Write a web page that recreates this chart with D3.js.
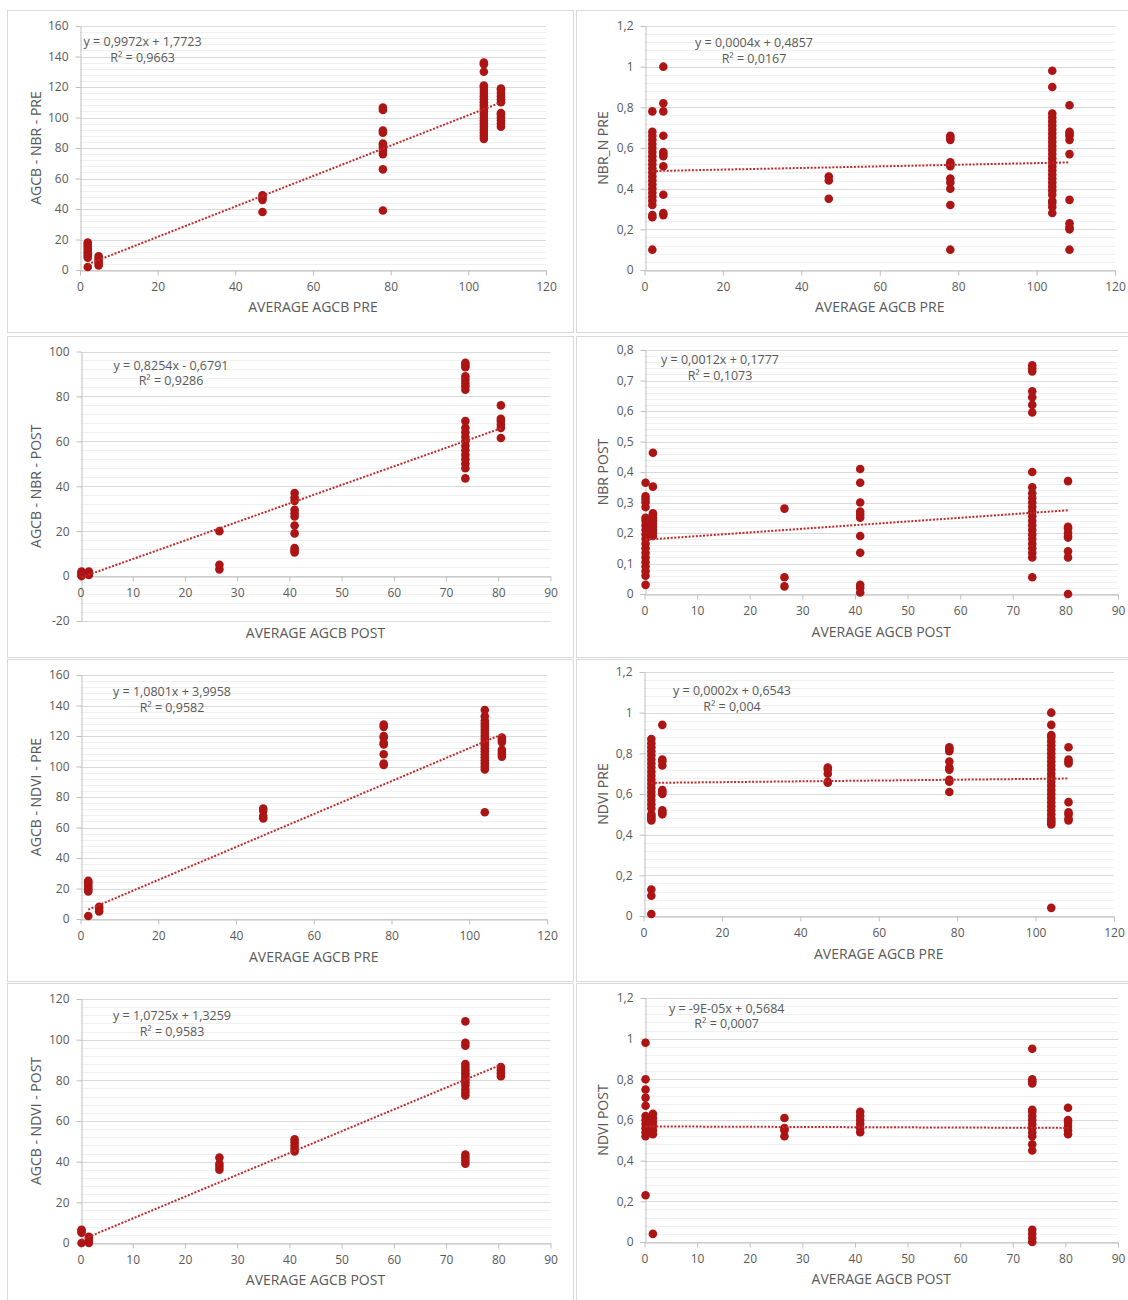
<!DOCTYPE html>
<html>
<head>
<meta charset="utf-8">
<script src="https://cdn.jsdelivr.net/npm/d3@7"></script>
<style>
  body { margin: 0; background: #fff; }
  text { font-family: "Open Sans", "Liberation Sans", sans-serif; fill: #595959; }
</style>
</head>
<body>
<div id="chart"></div>
<script>
// average AGCB of each plot (x clusters)
const preX = [2, 4.8, 47, 78, 104, 108.4];
const postX = [0.2, 1.6, 26.6, 41, 73.7, 80.5];

// y values, one list per x cluster
const agcbNbrPre = [
  [2, 8, 9.5, 11, 12.5, 14, 15.5, 17, 18],
  [3, 4.5, 6, 7.5, 9],
  [38, 46, 47.5, 49],
  [39, 66, 76, 78, 80, 82, 83, 90, 91.5, 105, 106.5],
  [86, 88, 90, 92, 94, 96, 98, 100, 102, 104, 106, 108, 110, 112, 114, 116, 118, 120, 121, 130, 135, 136],
  [94, 96, 98, 100, 102, 103, 110, 112, 114, 116, 118, 119]
];
const nbrNPre = [
  [0.10, 0.26, 0.27, 0.32, 0.34, 0.36, 0.38, 0.40, 0.42, 0.44, 0.46, 0.48, 0.50, 0.52, 0.54, 0.56, 0.58, 0.60, 0.62, 0.64, 0.66, 0.68, 0.78],
  [0.27, 0.28, 0.37, 0.51, 0.56, 0.57, 0.58, 0.66, 0.78, 0.82, 1.0],
  [0.35, 0.44, 0.46],
  [0.10, 0.32, 0.40, 0.43, 0.45, 0.51, 0.52, 0.53, 0.64, 0.65, 0.66],
  [0.28, 0.31, 0.33, 0.34, 0.37, 0.39, 0.41, 0.43, 0.45, 0.47, 0.49, 0.51, 0.53, 0.55, 0.57, 0.59, 0.61, 0.63, 0.65, 0.67, 0.69, 0.71, 0.73, 0.75, 0.77, 0.90, 0.98],
  [0.10, 0.20, 0.21, 0.23, 0.345, 0.57, 0.64, 0.66, 0.67, 0.68, 0.81]
];
const agcbNbrPost = [
  [0, 0.5, 1, 1.5, 2],
  [0.5, 1, 1.5, 2],
  [3, 5, 20],
  [10.5, 11.5, 12.5, 19, 22.5, 26.5, 28, 29.5, 33.5, 35, 37],
  [43.5, 48, 50, 52, 54, 56, 58, 60, 62, 64, 66, 69, 83, 84.5, 86, 87.5, 89, 93, 94, 95],
  [61.5, 66, 67.5, 69, 70, 76]
];
const nbrPost = [
  [0.03, 0.06, 0.075, 0.09, 0.105, 0.12, 0.135, 0.15, 0.165, 0.18, 0.195, 0.21, 0.225, 0.24, 0.25, 0.285, 0.30, 0.31, 0.32, 0.365],
  [0.19, 0.20, 0.21, 0.22, 0.23, 0.24, 0.25, 0.26, 0.265, 0.352, 0.463],
  [0.025, 0.055, 0.28],
  [0.005, 0.02, 0.03, 0.135, 0.19, 0.25, 0.26, 0.27, 0.30, 0.365, 0.41],
  [0.055, 0.12, 0.135, 0.15, 0.165, 0.18, 0.195, 0.21, 0.225, 0.24, 0.255, 0.27, 0.285, 0.30, 0.315, 0.33, 0.35, 0.40, 0.595, 0.62, 0.645, 0.665, 0.73, 0.74, 0.75],
  [0, 0.12, 0.14, 0.185, 0.19, 0.20, 0.215, 0.22, 0.37]
];
const agcbNdviPre = [
  [2, 18, 19.5, 21, 22.5, 24, 25],
  [5, 6.5, 8],
  [66, 67.5, 71, 72.5],
  [101, 102, 108, 114.5, 115.5, 119, 120, 126, 127.5],
  [70, 98, 100, 102, 104, 106, 108, 110, 112, 114, 116, 118, 120, 122, 124, 126, 128, 130, 133, 137],
  [106.5, 108, 109.5, 111, 116, 117.5, 119]
];
const ndviPre = [
  [0.01, 0.10, 0.13, 0.47, 0.48, 0.49, 0.50, 0.53, 0.55, 0.57, 0.59, 0.61, 0.63, 0.65, 0.67, 0.69, 0.71, 0.73, 0.75, 0.77, 0.79, 0.81, 0.83, 0.85, 0.87],
  [0.50, 0.51, 0.52, 0.60, 0.61, 0.62, 0.74, 0.76, 0.77, 0.94],
  [0.655, 0.66, 0.70, 0.72, 0.73],
  [0.61, 0.66, 0.67, 0.72, 0.73, 0.76, 0.81, 0.82, 0.83],
  [0.04, 0.45, 0.46, 0.47, 0.48, 0.50, 0.52, 0.54, 0.56, 0.58, 0.60, 0.62, 0.64, 0.66, 0.68, 0.70, 0.72, 0.74, 0.76, 0.78, 0.80, 0.82, 0.84, 0.86, 0.88, 0.89, 0.94, 1.0],
  [0.47, 0.48, 0.50, 0.51, 0.56, 0.75, 0.76, 0.77, 0.83]
];
const agcbNdviPost = [
  [0, 5, 6, 6.5],
  [0, 1, 2, 3],
  [36, 37.5, 39, 42],
  [45, 46.5, 48, 49.5, 51],
  [39, 40.5, 42, 43.5, 72.5, 74, 75.5, 77.5, 79, 80.5, 82, 83.5, 85, 86.5, 88, 97, 98.5, 109],
  [82, 83.5, 85, 86.5]
];
const ndviPost = [
  [0.23, 0.52, 0.54, 0.56, 0.58, 0.60, 0.62, 0.67, 0.71, 0.75, 0.80, 0.98],
  [0.04, 0.53, 0.55, 0.57, 0.59, 0.61, 0.63],
  [0.52, 0.55, 0.56, 0.61],
  [0.54, 0.56, 0.58, 0.60, 0.62, 0.64],
  [0, 0.02, 0.04, 0.06, 0.45, 0.48, 0.52, 0.54, 0.56, 0.58, 0.60, 0.62, 0.64, 0.65, 0.78, 0.79, 0.80, 0.95],
  [0.53, 0.55, 0.57, 0.59, 0.60, 0.66]
];

const seriesY = [agcbNbrPre, nbrNPre, agcbNbrPost, nbrPost, agcbNdviPre, ndviPre, agcbNdviPost, ndviPost];
const seriesX = [preX, preX, postX, postX, preX, preX, postX, postX];

const xTitles = ["AVERAGE AGCB PRE", "AVERAGE AGCB PRE", "AVERAGE AGCB POST", "AVERAGE AGCB POST",
                 "AVERAGE AGCB PRE", "AVERAGE AGCB PRE", "AVERAGE AGCB POST", "AVERAGE AGCB POST"];
const yTitles = ["AGCB - NBR - PRE", "NBR_N PRE", "AGCB - NBR - POST", "NBR POST",
                 "AGCB - NDVI - PRE", "NDVI PRE", "AGCB - NDVI - POST", "NDVI POST"];
const yMins = [0, 0, -20, 0, 0, 0, 0, 0];
const yMaxs = [160, 1.2, 100, 0.8, 160, 1.2, 120, 1.2];
const yStep = [20, 0.2, 20, 0.1, 20, 0.2, 20, 0.2];
const xMaxs = [120, 120, 90, 90, 120, 120, 90, 90];
const xStep = [20, 20, 10, 10, 20, 20, 10, 10];

const slopes = [0.9972, 0.0004, 0.8254, 0.0012, 1.0801, 0.0002, 1.0725, -0.00009];
const intercepts = [1.7723, 0.4857, -0.6791, 0.1777, 3.9958, 0.6543, 1.3259, 0.5684];
const eqLabels = ["y = 0,9972x + 1,7723", "y = 0,0004x + 0,4857", "y = 0,8254x - 0,6791", "y = 0,0012x + 0,1777",
                  "y = 1,0801x + 3,9958", "y = 0,0002x + 0,6543", "y = 1,0725x + 1,3259", "y = -9E-05x + 0,5684"];
const r2Labels = ["R² = 0,9663", "R² = 0,0167", "R² = 0,9286", "R² = 0,1073",
                  "R² = 0,9582", "R² = 0,004", "R² = 0,9583", "R² = 0,0007"];

// layout (pixels)
const frames = [
  [7.5, 10.5, 566, 322], [576.5, 10.5, 560, 322],
  [7.5, 336.5, 566, 321], [576.5, 336.5, 560, 321],
  [7.5, 659.5, 566, 322], [576.5, 659.5, 560, 322],
  [7.5, 983.5, 566, 330], [576.5, 983.5, 560, 330]
];
// left, right, top, bottom of plot area
const plots = [
  [80, 546, 26, 270], [644.5, 1115, 26, 270],
  [80.5, 550.5, 351.5, 621], [644.5, 1118, 350, 594],
  [80.5, 547, 675, 919], [643.5, 1114, 672, 916],
  [80.5, 550.5, 999, 1243], [644.5, 1118, 998, 1242]
];
// equation centre x, line 1 y, line 2 y
const eqPos = [
  [142.6, 41.7, 57.7], [754, 42.3, 58.3],
  [171, 365, 380.7], [720, 359.3, 375.3],
  [172, 691, 707], [732, 690, 706],
  [172, 1015, 1031], [726.7, 1008.3, 1023.7]
];
const xTitleY = [306.5, 307, 633.3, 631.7, 956.7, 954.3, 1280, 1279.3];

const dotColor = "#ad1515";
const lineColor = "#c62828";

const fmt = d => d3.format(".2~f")(d).replace(".", ",").replace("\u2212", "-");

const svg = d3.select("#chart").append("svg")
  .attr("width", 1128)
  .attr("height", 1300)
  .style("display", "block");

svg.append("rect").attr("width", 1128).attr("height", 1300).attr("fill", "#fff");

seriesY.forEach(function(clusters, i) {
  const f = frames[i], p = plots[i];
  const g = svg.append("g");

  g.append("rect")
    .attr("x", f[0]).attr("y", f[1])
    .attr("width", f[2]).attr("height", f[3])
    .attr("fill", "#fff")
    .attr("stroke", "#d9d9d9");

  const x = d3.scaleLinear().domain([0, xMaxs[i]]).range([p[0], p[1]]);
  const y = d3.scaleLinear().domain([yMins[i], yMaxs[i]]).range([p[3], p[2]]);

  const nMajor = Math.round((yMaxs[i] - yMins[i]) / yStep[i]);
  const majors = d3.range(nMajor + 1).map(k => +(yMins[i] + k * yStep[i]).toFixed(4));
  const minors = d3.range(nMajor * 5 + 1).filter(k => k % 5).map(k => yMins[i] + k * yStep[i] / 5);
  const xTicks = d3.range(Math.round(xMaxs[i] / xStep[i]) + 1).map(k => k * xStep[i]);

  g.selectAll(".minor").data(minors).join("line")
    .attr("x1", p[0]).attr("x2", p[1])
    .attr("y1", d => Math.round(y(d)) + 0.5).attr("y2", d => Math.round(y(d)) + 0.5)
    .attr("stroke", "#f0f0f0");

  g.selectAll(".major").data(majors).join("line")
    .attr("x1", p[0]).attr("x2", p[1])
    .attr("y1", d => Math.round(y(d)) + 0.5).attr("y2", d => Math.round(y(d)) + 0.5)
    .attr("stroke", "#d9d9d9");

  const yAxis = g.append("g")
    .attr("transform", `translate(${Math.round(p[0]) + 0.5},0)`)
    .call(d3.axisLeft(y).tickValues(majors).tickFormat(fmt).tickSize(5).tickSizeOuter(0).tickPadding(7));

  const xAxis = g.append("g")
    .attr("transform", `translate(0,${Math.round(y(0)) + 0.5})`)
    .call(d3.axisBottom(x).tickValues(xTicks).tickFormat(fmt).tickSize(5).tickSizeOuter(0).tickPadding(7));

  [yAxis, xAxis].forEach(a => {
    a.select(".domain").attr("stroke", "#bfbfbf");
    a.selectAll(".tick line").attr("stroke", "#bfbfbf");
    a.selectAll(".tick text").style("font-size", "12px").attr("fill", "#595959");
  });

  // points
  const pts = clusters.flatMap((ys, k) => ys.map(v => [seriesX[i][k], v]));
  g.selectAll(".dot").data(pts).join("circle")
    .attr("cx", d => x(d[0]))
    .attr("cy", d => y(d[1]))
    .attr("r", 4.3)
    .attr("fill", dotColor);

  // linear trend line over the x range of the data
  const ext = d3.extent(seriesX[i]);
  const trend = ext.map(v => [v, slopes[i] * v + intercepts[i]]);
  g.append("path")
    .datum(trend)
    .attr("d", d3.line().x(d => x(d[0])).y(d => y(d[1])))
    .attr("fill", "none")
    .attr("stroke", lineColor)
    .attr("stroke-width", 2)
    .attr("stroke-dasharray", "2 1.6");

  // equation
  const e = eqPos[i];
  g.append("text").attr("x", e[0]).attr("y", e[1] + 4.5)
    .attr("text-anchor", "middle").style("font-size", "12.5px").text(eqLabels[i]);
  g.append("text").attr("x", e[0]).attr("y", e[2] + 4.5)
    .attr("text-anchor", "middle").style("font-size", "12.5px").text(r2Labels[i]);

  // axis titles
  g.append("text")
    .attr("x", (p[0] + p[1]) / 2).attr("y", xTitleY[i] + 5)
    .attr("text-anchor", "middle").style("font-size", "14px")
    .text(xTitles[i]);

  const ty = (p[2] + p[3]) / 2;
  const tx = f[0] + (i % 2 === 0 ? 28 : 26);
  g.append("text")
    .attr("transform", `translate(${tx + 5},${ty}) rotate(-90)`)
    .attr("text-anchor", "middle").style("font-size", "14px")
    .text(yTitles[i]);
});
</script>
</body>
</html>
